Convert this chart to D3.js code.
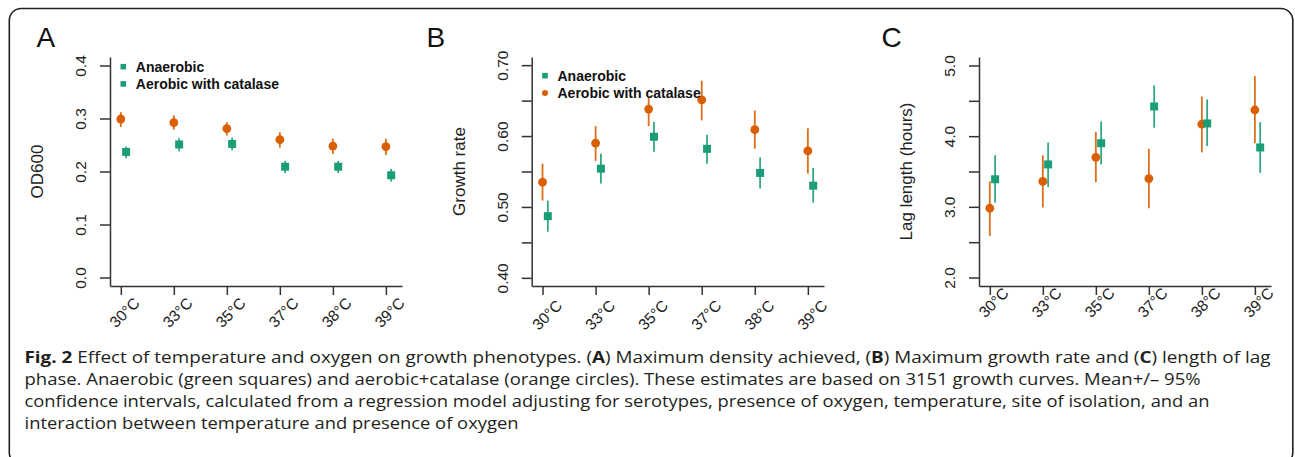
<!DOCTYPE html>
<html>
<head>
<meta charset="utf-8">
<script src="https://cdn.jsdelivr.net/npm/d3@7"></script>
<style>
  html, body { margin: 0; padding: 0; background: #fff; }
  svg { display: block; }
</style>
</head>
<body>
<svg id="chart" width="1295" height="457"></svg>
<script>
// ---------------- DATA ----------------
const temps = ["30°C", "33°C", "35°C", "37°C", "38°C", "39°C"];

// Panel A: OD600 (maximum density)
const odAnaerobic    = [0.237, 0.251, 0.252, 0.209, 0.209, 0.193];
const odAnaerobicLo  = [0.225, 0.238, 0.240, 0.197, 0.197, 0.181];
const odAnaerobicHi  = [0.247, 0.263, 0.264, 0.220, 0.220, 0.205];
const odAerobic      = [0.299, 0.292, 0.281, 0.260, 0.248, 0.247];
const odAerobicLo    = [0.284, 0.279, 0.268, 0.245, 0.233, 0.231];
const odAerobicHi    = [0.312, 0.306, 0.293, 0.274, 0.262, 0.262];

// Panel B: growth rate
const grAnaerobic    = [0.487, 0.554, 0.599, 0.582, 0.548, 0.530];
const grAnaerobicLo  = [0.465, 0.533, 0.578, 0.561, 0.526, 0.506];
const grAnaerobicHi  = [0.509, 0.575, 0.620, 0.602, 0.570, 0.555];
const grAerobic      = [0.535, 0.590, 0.638, 0.651, 0.609, 0.579];
const grAerobicLo    = [0.509, 0.565, 0.614, 0.622, 0.582, 0.547];
const grAerobicHi    = [0.561, 0.614, 0.654, 0.678, 0.636, 0.611];

// Panel C: lag length (hours)
const lagAnaerobic   = [3.39, 3.60, 3.90, 4.42, 4.18, 3.84];
const lagAnaerobicLo = [3.06, 3.28, 3.60, 4.12, 3.86, 3.48];
const lagAnaerobicHi = [3.73, 3.91, 4.21, 4.72, 4.52, 4.20];
const lagAerobic     = [2.98, 3.36, 3.70, 3.40, 4.17, 4.37];
const lagAerobicLo   = [2.59, 2.99, 3.35, 2.98, 3.77, 3.90];
const lagAerobicHi   = [3.36, 3.73, 4.06, 3.82, 4.56, 4.85];

// Axis ticks and labels
const odTicks  = [0.0, 0.1, 0.2, 0.3, 0.4];
const odLabels = ["0.0", "0.1", "0.2", "0.3", "0.4"];
const grTicks  = [0.40, 0.45, 0.50, 0.55, 0.60, 0.65, 0.70];
const grLabels = ["0.40", "", "0.50", "", "0.60", "", "0.70"];
const lagTicks  = [2.0, 2.5, 3.0, 3.5, 4.0, 4.5, 5.0];
const lagLabels = ["2.0", "", "3.0", "", "4.0", "", "5.0"];

const axisTitles = ["OD600", "Growth rate", "Lag length (hours)"];
const panelLetters = ["A", "B", "C"];
const legendLabels = ["Anaerobic", "Aerobic with catalase"];
// legend marker shapes per panel (panel A shows two green squares in the original)
const legendShapesA = ["square", "square"];
const legendShapesB = ["square", "circle"];

const captionLines = [
  [["Fig. 2", true], [" Effect of temperature and oxygen on growth phenotypes. (", false], ["A", true],
   [") Maximum density achieved, (", false], ["B", true], [") Maximum growth rate and (", false],
   ["C", true], [") length of lag", false]],
  [["phase. Anaerobic (green squares) and aerobic+catalase (orange circles). These estimates are based on 3151 growth curves. Mean+/– 95%", false]],
  [["confidence intervals, calculated from a regression model adjusting for serotypes, presence of oxygen, temperature, site of isolation, and an", false]],
  [["interaction between temperature and presence of oxygen", false]]
];

// ---------------- STYLE / LAYOUT ----------------
const GREEN = "#1b9e77", ORANGE = "#d95f02";
const AXIS = "#333";
const svg = d3.select("#chart");

// outer rounded frame
svg.append("rect")
  .attr("x", 9.3).attr("y", 8.5).attr("width", 1283.5).attr("height", 456)
  .attr("rx", 12).attr("ry", 12)
  .attr("fill", "none").attr("stroke", "#222").attr("stroke-width", 1.6);

const panels = [
  { left: 110, right: 402, letterX: 36.5, domain: [-0.016, 0.416], ticks: odTicks, labels: odLabels,
    title: axisTitles[0], letter: panelLetters[0],
    green: [odAnaerobic, odAnaerobicLo, odAnaerobicHi], orange: [odAerobic, odAerobicLo, odAerobicHi],
    legend: { x: 123.3, y: 66.7, shapes: legendShapesA }, xlab: [3.2, 26.5] },
  { left: 531.7, right: 824, letterX: 426.5, domain: [0.3885, 0.7115], ticks: grTicks, labels: grLabels,
    title: axisTitles[1], letter: panelLetters[1],
    green: [grAnaerobic, grAnaerobicLo, grAnaerobicHi], orange: [grAerobic, grAerobicLo, grAerobicHi],
    legend: { x: 545, y: 75.7, shapes: legendShapesB }, xlab: [4, 29] },
  { left: 979, right: 1271, letterX: 881.5, domain: [1.88, 5.12], ticks: lagTicks, labels: lagLabels,
    title: axisTitles[2], letter: panelLetters[2],
    green: [lagAnaerobic, lagAnaerobicLo, lagAnaerobicHi], orange: [lagAerobic, lagAerobicLo, lagAerobicHi],
    legend: null, xlab: [3.3, 16.5] }
];
const TOP = 57, BOTTOM = 286;
const OFFSET = 0.1; // anaerobic offset along x (in category units)

panels.forEach(p => {
  const g = svg.append("g");
  const x = d3.scaleLinear().domain([0.796, 6.304]).range([p.left, p.right]);
  const y = d3.scaleLinear().domain(p.domain).range([BOTTOM, TOP]);

  // panel letter
  g.append("text").attr("x", p.letterX).attr("y", 46.7)
    .attr("font-family", "Liberation Sans, Arial, sans-serif").attr("font-size", 28)
    .attr("fill", "#111").text(p.letter);

  // y axis
  const yAxis = d3.axisLeft(y).tickValues(p.ticks).tickSize(10).tickSizeOuter(0)
    .tickFormat((d, i) => p.labels[i]);
  const ya = g.append("g").attr("transform", `translate(${p.left},0)`).call(yAxis);
  ya.selectAll("text")
    .attr("x", 0).attr("y", -24).attr("dy", null)
    .attr("transform", "rotate(-90)").attr("text-anchor", "middle");

  // x axis
  const xAxis = d3.axisBottom(x).tickValues(d3.range(1, temps.length + 1)).tickSize(9).tickSizeOuter(0)
    .tickFormat((d, i) => temps[i]);
  const xa = g.append("g").attr("transform", `translate(0,${BOTTOM})`).call(xAxis);
  xa.selectAll("text")
    .attr("x", null).attr("y", null).attr("dy", "0.35em")
    .attr("text-anchor", "middle")
    .attr("transform", `translate(${p.xlab[0]},${p.xlab[1]}) rotate(-45)`);

  [ya, xa].forEach(a => {
    a.selectAll("path.domain").attr("stroke", AXIS).attr("stroke-width", 1.5);
    a.selectAll(".tick line").attr("stroke", AXIS).attr("stroke-width", 1.5);
    a.selectAll("text").attr("font-family", "Liberation Sans, Arial, sans-serif")
      .attr("font-size", 15.5).attr("fill", "#222");
  });

  // y title
  g.append("text")
    .attr("transform", `translate(${p.left - 67},${(TOP + BOTTOM) / 2}) rotate(-90)`)
    .attr("text-anchor", "middle")
    .attr("font-family", "Liberation Sans, Arial, sans-serif").attr("font-size", 17)
    .attr("fill", "#222").text(p.title);

  // series: orange (aerobic) at category, green (anaerobic) offset
  const series = [
    { vals: p.orange, color: ORANGE, off: 0, shape: "circle" },
    { vals: p.green, color: GREEN, off: OFFSET, shape: "square" }
  ];
  series.forEach(s => {
    const [mid, lo, hi] = s.vals;
    g.append("g").selectAll("line").data(mid).join("line")
      .attr("x1", (d, i) => x(i + 1 + s.off)).attr("x2", (d, i) => x(i + 1 + s.off))
      .attr("y1", (d, i) => y(lo[i])).attr("y2", (d, i) => y(hi[i]))
      .attr("stroke", s.color).attr("stroke-width", 1.8).attr("stroke-opacity", 0.9);
  });
  series.forEach(s => {
    const [mid] = s.vals;
    if (s.shape === "circle") {
      g.append("g").selectAll("circle").data(mid).join("circle")
        .attr("cx", (d, i) => x(i + 1 + s.off)).attr("cy", d => y(d)).attr("r", 4.4)
        .attr("fill", s.color);
    } else {
      g.append("g").selectAll("rect").data(mid).join("rect")
        .attr("x", (d, i) => x(i + 1 + s.off) - 4).attr("y", d => y(d) - 4)
        .attr("width", 8).attr("height", 8).attr("fill", s.color);
    }
  });

  // legend
  if (p.legend) {
    const colors = [GREEN, p.legend.shapes[1] === "circle" ? ORANGE : GREEN];
    legendLabels.forEach((lab, i) => {
      const ly = p.legend.y + i * 17.2;
      if (p.legend.shapes[i] === "circle") {
        g.append("circle").attr("cx", p.legend.x).attr("cy", ly).attr("r", 3).attr("fill", colors[i]);
      } else {
        g.append("rect").attr("x", p.legend.x - 2.8).attr("y", ly - 2.8)
          .attr("width", 5.6).attr("height", 5.6).attr("fill", colors[i]);
      }
      g.append("text").attr("x", p.legend.x + 12.5).attr("y", ly + 5)
        .attr("font-family", "Liberation Sans, Arial, sans-serif").attr("font-size", 14)
        .attr("font-weight", "bold").attr("fill", "#111").text(lab);
    });
  }
});

// caption
const capBase = [363, 385, 407, 429];
const capEnd = [1271, 1201, 1210, 519];
captionLines.forEach((segs, li) => {
  const t = svg.append("text").attr("x", 24.5).attr("y", capBase[li])
    .attr("font-family", "Open Sans, Noto Sans, sans-serif").attr("font-size", 16)
    .attr("fill", "#231f20");
  segs.forEach(([s, b]) => {
    t.append("tspan").attr("font-weight", b ? "bold" : "normal").text(s);
  });
  t.attr("textLength", capEnd[li] - 25).attr("lengthAdjust", "spacingAndGlyphs");
});
</script>
</body>
</html>
